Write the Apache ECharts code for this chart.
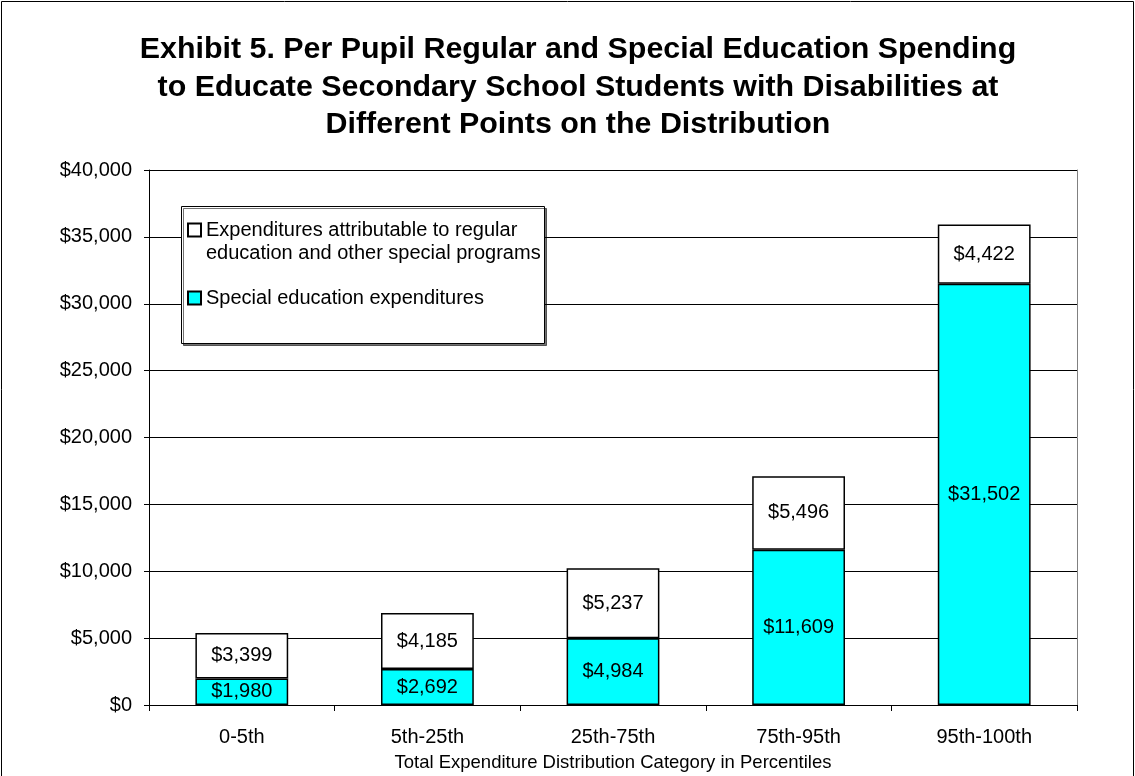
<!DOCTYPE html>
<html><head><meta charset="utf-8">
<script src="https://cdn.jsdelivr.net/npm/echarts@6/dist/echarts.min.js"></script>
<style>html,body{margin:0;padding:0;background:#fff}#c{width:1135px;height:776px}</style>
</head><body><div id="c"></div>
<script>
const categories = ['0-5th','5th-25th','25th-75th','75th-95th','95th-100th'];
const specialEd = [1980, 2692, 4984, 11609, 31502];
const regularEd = [3399, 4185, 5237, 5496, 4422];
const seriesNames = ['Expenditures attributable to regular\neducation and other special programs', 'Special education expenditures'];
const titleText = 'Exhibit 5. Per Pupil Regular and Special Education Spending\nto Educate Secondary School Students with Disabilities at\nDifferent Points on the Distribution';
const xAxisTitle = 'Total Expenditure Distribution Category in Percentiles';

const FONT = '"Liberation Sans", Arial, sans-serif';
const fmt = v => '$' + v.toLocaleString('en-US');
const chart = echarts.init(document.getElementById('c'));
chart.setOption({
  animation: false,
  backgroundColor: '#fff',
  textStyle: { fontFamily: FONT },
  title: {
    text: titleText, left: 573, textAlign: 'center', top: 26,
    textStyle: { fontFamily: FONT, fontSize: 30.4, fontWeight: 'bold', color: '#000', lineHeight: 37.5 }
  },
  graphic: [{
    type: 'polyline', silent: true,
    shape: { points: [[1.5, 800], [1.5, 1.5], [1133.5, 1.5], [1133.5, 800]] },
    style: { stroke: '#000', lineWidth: 1, fill: null }
  }, {
    type: 'rect', silent: true, z: 10,
    shape: { x: 181.5, y: 206.5, width: 363, height: 137 },
    style: { fill: '#fff', stroke: '#000', lineWidth: 1, shadowColor: 'rgba(0,0,0,0.55)', shadowOffsetX: 2, shadowOffsetY: 2, shadowBlur: 0 }
  }],
  legend: {
    orient: 'vertical', left: 187, top: 195.5, z: 20,
    data: [seriesNames[0], seriesNames[1]],
    formatter: name => (name.indexOf('\n') >= 0 ? ' \n' + name : name),
    padding: 0, itemGap: 22,
    itemWidth: 13, itemHeight: 13, icon: 'rect',
    textStyle: { fontFamily: FONT, fontSize: 20, color: '#000', lineHeight: 23 }
  },
  grid: { left: 149, right: 58, top: 170, bottom: 71, containLabel: false, outerBoundsMode: 'none' },
  xAxis: {
    type: 'category', data: categories,
    name: xAxisTitle, nameLocation: 'middle', nameGap: 48,
    nameTextStyle: { fontFamily: FONT, fontSize: 18.5, color: '#000' },
    axisLine: { lineStyle: { color: '#000', width: 1 } },
    axisTick: { show: true, alignWithLabel: false, length: 6, lineStyle: { color: '#000' } },
    axisLabel: { fontFamily: FONT, fontSize: 20, color: '#000', margin: 22 }
  },
  yAxis: [{
    type: 'value', min: 0, max: 40000, interval: 5000,
    axisLine: { show: true, lineStyle: { color: '#000' } },
    axisTick: { show: true, length: 5, lineStyle: { color: '#000' } },
    axisLabel: { fontFamily: FONT, fontSize: 20, color: '#000', margin: 17, formatter: v => fmt(v) },
    splitLine: { show: true, lineStyle: { color: '#000', width: 1 } }
  }, {
    type: 'value', min: 0, max: 40000, interval: 5000, position: 'right',
    axisLine: { show: true, lineStyle: { color: '#808080' } },
    axisTick: { show: false }, axisLabel: { show: false }, splitLine: { show: false }
  }],
  series: [{
    name: seriesNames[1], type: 'bar', stack: 'total', data: specialEd, barWidth: '50%',
    itemStyle: { color: '#00FFFF', borderColor: '#000', borderWidth: 1.5 },
    label: { show: true, position: 'inside', fontFamily: FONT, fontSize: 20, color: '#000', formatter: p => fmt(p.value) }
  }, {
    name: seriesNames[0], type: 'bar', stack: 'total', data: regularEd, barWidth: '50%',
    itemStyle: { color: '#FFFFFF', borderColor: '#000', borderWidth: 1.5 },
    label: { show: true, position: 'inside', fontFamily: FONT, fontSize: 20, color: '#000', formatter: p => fmt(p.value) }
  }]
});
</script></body></html>
